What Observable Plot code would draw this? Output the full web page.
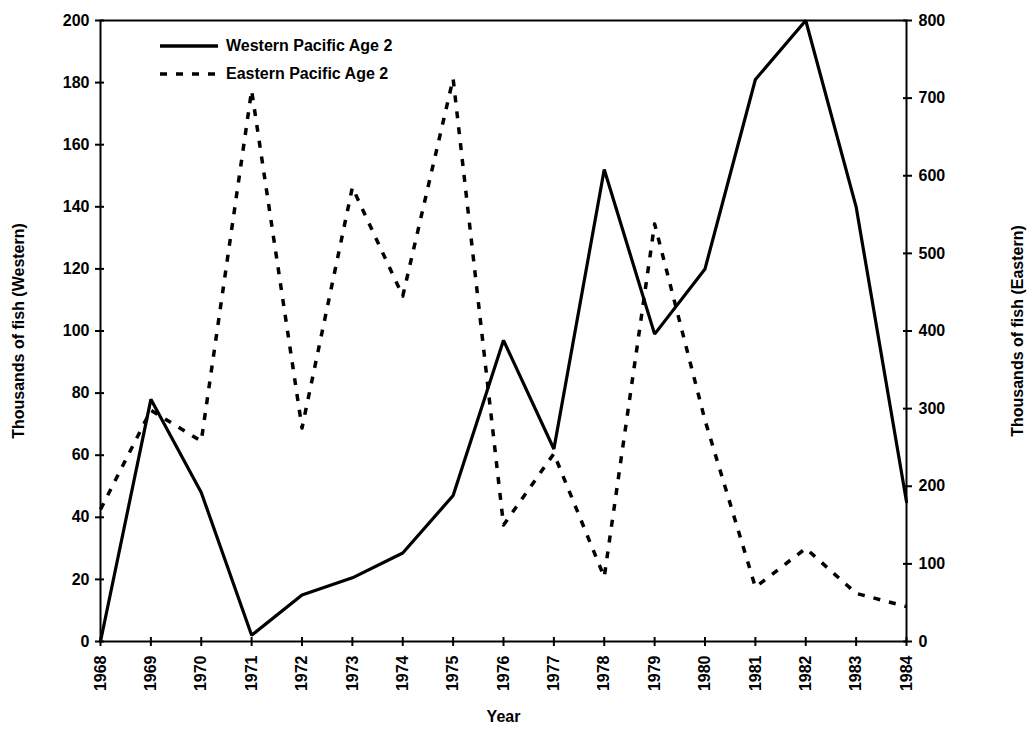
<!DOCTYPE html>
<html>
<head>
<meta charset="utf-8">
<script src="https://cdn.jsdelivr.net/npm/d3@7"></script>
<script src="https://cdn.jsdelivr.net/npm/@observablehq/plot@0.6"></script>
<style>
  html, body { margin: 0; padding: 0; background: #fff; }
  #wrap { position: relative; width: 1032px; height: 736px; font-family: "Liberation Sans", Arial, sans-serif; }
  #legend { position: absolute; left: 160px; top: 32px; font-size: 16px; font-weight: bold; color: #000; }
  #legend .row { display: flex; align-items: center; height: 28px; }
  #legend svg { margin-right: 6px; }
</style>
</head>
<body>
<div id="wrap">
  <div id="chart"></div>
  <div id="legend"></div>
</div>
<script>
const years = [1968,1969,1970,1971,1972,1973,1974,1975,1976,1977,1978,1979,1980,1981,1982,1983,1984];
const western = [0,78,48,2,15,20.5,28.5,47,97,62,152,99,120,181,200,140,45];
const eastern = [170,298,258,710,275,585,445,725,150,242,83,538,285,70,120,62,45];
const leftTicks = [0,20,40,60,80,100,120,140,160,180,200];
const rightTicks = [0,100,200,300,400,500,600,700,800];
const seriesNames = ["Western Pacific Age 2","Eastern Pacific Age 2"];
const ratio = 4; // right axis / left axis

const dataW = years.map((y,i)=>({year:y, v:western[i]}));
const dataE = years.map((y,i)=>({year:y, v:eastern[i]/ratio}));

const plot = Plot.plot({
  width: 1032,
  height: 736,
  marginLeft: 100,
  marginRight: 126,
  marginTop: 20,
  marginBottom: 95,
  style: {fontFamily: "'Liberation Sans', Arial, sans-serif", fontSize: "16px", fontWeight: "bold", color: "#000", background: "#fff"},
  x: {domain: [1968, 1984], label: null},
  y: {domain: [0, 200], label: null},
  marks: [
    Plot.frame({stroke: "#000", strokeWidth: 2}),
    // left axis
    Plot.axisY({ticks: leftTicks, tickSize: 5, tickPadding: 6, tickFormat: d=>d, label: "Thousands of fish (Western)", labelArrow: "none", labelAnchor: "center", labelOffset: 88, strokeWidth: 2}),
    Plot.axisY({ticks: leftTicks, tickSize: -4, tickFormat: ()=>"", label: null, strokeWidth: 2}),
    // right axis
    Plot.axisY({anchor: "right", ticks: rightTicks.map(d=>d/ratio), tickSize: 5, tickPadding: 7, tickFormat: d=>d*ratio, label: "Thousands of fish (Eastern)", labelArrow: "none", labelAnchor: "center", labelOffset: 116, strokeWidth: 2}),
    Plot.axisY({anchor: "right", ticks: rightTicks.map(d=>d/ratio), tickSize: -4, tickFormat: ()=>"", label: null, strokeWidth: 2}),
    // x axis
    Plot.axisX({ticks: years, tickSize: 5, tickPadding: 9, tickRotate: -90, tickFormat: d=>String(d), label: "Year", labelArrow: "none", labelAnchor: "center", labelOffset: 80, strokeWidth: 2}),
    Plot.axisX({ticks: years, tickSize: -4, tickFormat: ()=>"", label: null, strokeWidth: 2}),
    Plot.line(dataE, {x: "year", y: "v", stroke: "#000", strokeWidth: 3.5, strokeDasharray: "7,9", strokeLinecap: "butt"}),
    Plot.line(dataW, {x: "year", y: "v", stroke: "#000", strokeWidth: 3.2, strokeLinejoin: "miter"})
  ]
});
document.getElementById("chart").appendChild(plot);

// legend
const legend = document.getElementById("legend");
seriesNames.forEach((name, i) => {
  const row = document.createElement("div");
  row.className = "row";
  const dash = i === 0 ? "" : 'stroke-dasharray="7,9"';
  row.innerHTML = `<svg width="60" height="10"><line x1="0" y1="5" x2="58" y2="5" stroke="#000" stroke-width="3.5" ${dash}></line></svg><span>${name}</span>`;
  legend.appendChild(row);
});
</script>
</body>
</html>
